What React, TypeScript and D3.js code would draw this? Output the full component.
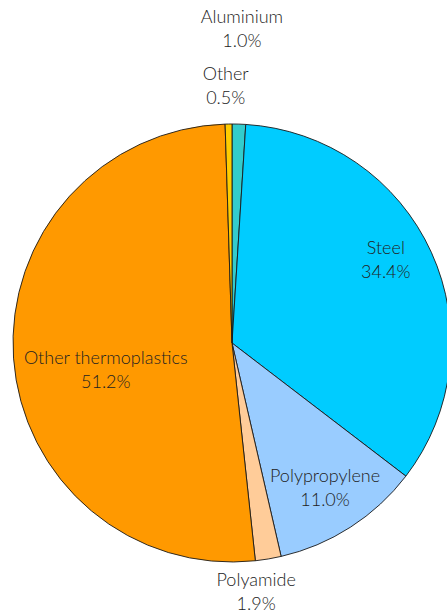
import * as d3 from "d3";

const materials = ["Aluminium", "Steel", "Polypropylene", "Polyamide", "Other thermoplastics", "Other"];
const shares = [1.0, 34.4, 11.0, 1.9, 51.2, 0.5];
const colors = ["#33CCCC", "#00CCFF", "#99CCFF", "#FFCC99", "#FF9900", "#FFCC00"];

// label placement: distance from center (px) and angle nudge (deg)
const labelPos: Record<string, { r: number; da: number }> = {
    "Aluminium": { r: 314, da: 0 },
    "Steel": { r: 175, da: -4 },
    "Polypropylene": { r: 172, da: 0 },
    "Polyamide": { r: 250, da: 4 },
    "Other thermoplastics": { r: 129, da: -8 },
    "Other": { r: 257, da: -0.5 },
};

export default function App() {
    const width = 447;
    const height = 614;
    const cx = 232;
    const cy = 343;
    const radius = 219;

    const data = materials.map((name, i) => ({ name, value: shares[i], color: colors[i] }));
    const pie = d3.pie<{ name: string; value: number; color: string }>()
        .value(d => d.value)
        .sort(null);
    const arcs = pie(data);
    const arc = d3.arc<d3.PieArcDatum<{ name: string; value: number; color: string }>>()
        .innerRadius(0)
        .outerRadius(radius);

    return <div style={{ position: "absolute", left: 0, top: 0 }}>
        <svg width={width} height={height} viewBox={`0 0 ${width} ${height}`} style={{ display: "block" }}>
            <rect width={width} height={height} fill="#fff"/>
            <g transform={`translate(${cx},${cy})`}>
                {arcs.map(a => <path key={a.data.name} d={arc(a) ?? ""} fill={a.data.color}
                                     stroke="#1a1a1a" strokeWidth={0.9} strokeLinejoin="round"/>)}
                {arcs.map(a => {
                    const p = labelPos[a.data.name];
                    const ang = (a.startAngle + a.endAngle) / 2 + p.da * Math.PI / 180;
                    const x = p.r * Math.sin(ang);
                    const y = -p.r * Math.cos(ang);
                    return <text key={a.data.name} x={x} y={y - 6} textAnchor="middle"
                                 fontFamily="Lato, 'Open Sans', sans-serif" fontWeight={300}
                                 fontSize={18} fill="#222">
                        <tspan x={x}>{a.data.name}</tspan>
                        <tspan x={x} dy={24}>{d3.format(".1f")(a.data.value)}%</tspan>
                    </text>;
                })}
            </g>
        </svg>
    </div>;
}
